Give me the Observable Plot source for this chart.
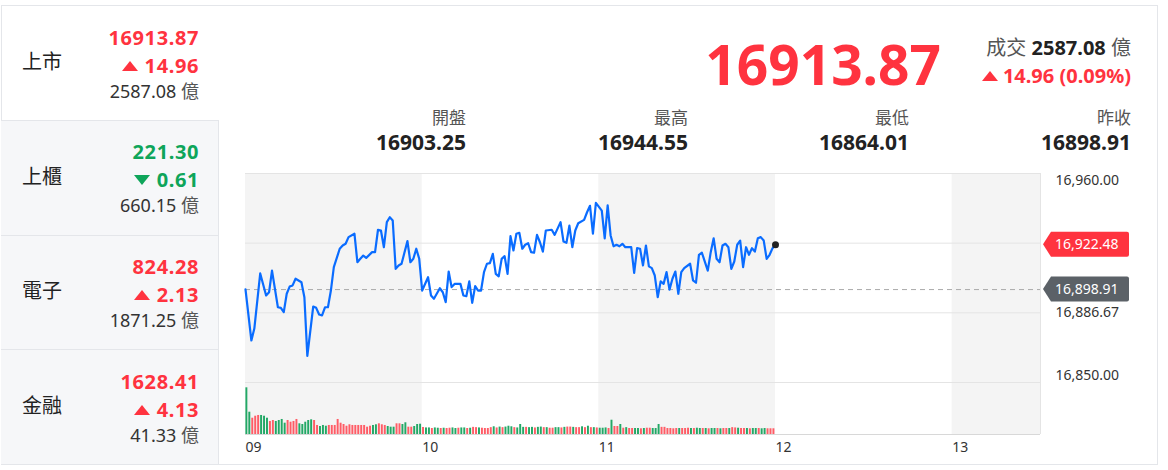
<!DOCTYPE html>
<html><head><meta charset="utf-8">
<script src="https://cdn.jsdelivr.net/npm/d3@7"></script>
<script src="https://cdn.jsdelivr.net/npm/@observablehq/plot@0.6"></script>
<style>
html,body{margin:0;padding:0;background:#fff;}
body{width:1168px;height:470px;overflow:hidden;position:relative;font-family:"Noto Sans","Noto Sans CJK TC",sans-serif;color:#222;}
.t{position:absolute;white-space:nowrap;}
.box{position:absolute;box-sizing:border-box;}
.tri-up{display:inline-block;width:0;height:0;border-left:8px solid transparent;border-right:8px solid transparent;border-bottom:10px solid currentColor;margin-right:7px;vertical-align:2px;}
.tri-dn{display:inline-block;width:0;height:0;border-left:8px solid transparent;border-right:8px solid transparent;border-top:10px solid currentColor;margin-right:7px;vertical-align:2px;}
.plot{position:absolute;left:218px;}
</style></head><body>
<script>
// ---------------- data ----------------
const RED = "#ff333f", GREEN = "#0ea55a";
const sectorNames = ["上市", "上櫃", "電子", "金融"];
const sectorValues = ["16913.87", "221.30", "824.28", "1628.41"];
const sectorChanges = ["14.96", "0.61", "2.13", "4.13"];
const sectorDirs = ["up", "down", "up", "up"];
const sectorVolumes = ["2587.08", "660.15", "1871.25", "41.33"];

const indexValue = "16913.87";
const turnover = "2587.08";
const changeText = "14.96 (0.09%)";
const statLabels = ["開盤", "最高", "最低", "昨收"];
const statValues = ["16903.25", "16944.55", "16864.01", "16898.91"];

const prevClose = 16898.91;
const lastPrice = 16922.48;
const yTicks = [16960, 16923.33, 16886.67, 16850];
const yTickLabels = ["16,960.00", "16,923.33", "16,886.67", "16,850.00"];
const hourTicks = ["09:00", "10:00", "11:00", "12:00", "13:00"];
const hourLabels = ["09", "10", "11", "12", "13"];
const shadedFrom = ["09:00", "11:00", "13:00"];
const shadedTo = ["10:00", "12:00", "13:30"];

const priceTimes = ["09:00","09:02","09:03","09:05","09:07","09:08","09:09","09:11","09:12","09:13","09:14","09:15","09:16","09:17","09:19","09:20","09:21","09:23","09:24","09:25","09:26","09:27","09:28","09:29","09:30","09:32","09:33","09:34","09:35","09:37","09:38","09:39","09:40","09:41","09:43","09:44","09:45","09:46","09:47","09:48","09:49","09:50","09:51","09:52","09:53","09:55","09:56","09:57","09:58","09:59",
"10:00","10:02","10:03","10:04","10:06","10:07","10:08","10:09","10:10","10:11","10:13","10:14","10:15","10:16","10:17","10:18","10:19","10:20","10:21","10:22","10:23","10:24","10:25","10:26","10:27","10:28","10:29","10:30","10:31","10:32","10:33","10:34","10:35","10:36","10:37","10:38","10:39","10:40","10:41","10:42","10:44","10:45","10:47","10:48","10:49","10:50","10:51","10:52","10:53","10:55","10:56","10:57","10:58","10:59",
"11:01","11:02","11:03","11:04","11:05","11:06","11:07","11:08","11:09","11:11","11:12","11:13","11:14","11:15","11:16","11:17","11:18","11:19","11:20","11:21","11:22","11:23","11:24","11:25","11:26","11:27","11:28","11:29","11:31","11:32","11:33","11:34","11:35","11:37","11:38","11:39","11:40","11:41","11:42","11:43","11:44","11:45","11:46","11:47","11:48","11:49","11:50","11:51","11:52","11:53","11:54","11:55","11:56","11:57","11:58","11:59","12:00"];
const priceValues = [16899.0,16872.1,16878.4,16907.4,16895.8,16897.5,16908.9,16889.6,16889.3,16887.0,16896.7,16900.5,16901.1,16904.6,16902.8,16894.9,16864.01,16890.0,16889.3,16885.8,16885.3,16889.6,16889.6,16898.4,16910.7,16920.4,16922.1,16923.0,16926.5,16928.3,16913.3,16915.1,16916.8,16915.6,16918.6,16918.6,16930.4,16930.0,16921.2,16934.4,16937.0,16935.3,16909.8,16911.6,16912.5,16924.4,16913.3,16915.1,16920.4,16915.1,
16898.4,16905.4,16895.8,16894.1,16899.6,16897.5,16892.3,16908.4,16900.2,16901.9,16901.9,16895.8,16895.4,16903.2,16891.9,16900.7,16898.4,16898.4,16908.1,16912.5,16912.8,16917.7,16907.2,16905.9,16915.1,16916.5,16907.2,16927.0,16919.5,16928.3,16928.8,16920.4,16922.5,16923.3,16918.6,16918.3,16927.7,16923.8,16918.9,16930.0,16930.4,16927.7,16934.4,16924.2,16923.5,16932.6,16921.2,16930.0,16933.8,16935.6,16939.6,16943.0,16928.3,16944.55,
16940.5,16925.9,16943.2,16927.4,16921.7,16922.5,16921.7,16923.0,16921.2,16921.2,16907.7,16920.7,16920.4,16911.6,16922.1,16911.1,16910.2,16906.3,16894.9,16903.2,16901.9,16908.1,16898.9,16904.6,16908.4,16896.7,16908.1,16910.2,16912.5,16903.7,16902.5,16917.2,16918.3,16908.9,16918.6,16925.9,16915.1,16913.3,16922.1,16923.0,16921.2,16909.8,16913.7,16922.5,16924.7,16910.7,16921.2,16917.2,16920.7,16918.9,16925.9,16926.5,16924.7,16915.1,16917.2,16920.7,16922.48];

// per-minute volume (億), from 09:00 to 11:59
const volumeValues = [81.7,39,28.5,32,33.3,33.3,32,28.5,22.8,24.5,22.8,24.5,26.3,19.8,24.5,21.5,22.8,26.3,18.7,17.5,21.5,24.5,25.7,24.5,15.8,14,15.8,14.5,15.8,15.8,15.8,26.3,19.8,17.5,14.5,17,15.8,15.8,15.8,15.8,15.8,12.8,14.5,15.8,17,18.7,17,15.8,14,12.8,12.8,18.7,18.7,17.5,20.5,12.8,12.8,14,17.5,18,
12.3,11.5,11.5,10.5,11.5,11,10.5,11,10.5,11,11.5,10.5,11,11.5,11.5,10.5,11,12.5,12,11.5,11,10.5,10.5,12,13.5,11.5,13,12,13,14.5,13.5,12,11.5,17.5,12.5,12.5,12,12.5,11.5,12.5,13,12,12,11,11,12,12,11.5,12.5,13,13,12.5,12,12,13.5,12,14.5,12,12,11.5,
11,11,11.5,10.5,25,14,14,17.5,11,12,10.5,10.5,10.5,10.5,10,10.5,11,11,10.5,10.5,17.5,12.5,12.5,10.5,10.5,10,10.5,10.5,10.5,10.5,11,10.5,10.5,11,10.5,10.5,10.5,10,10.5,10.5,10.5,10,10.5,10.5,10.5,12,11.5,11,10.5,10.5,10.5,10,10.5,10.5,10.5,10,10.5,10,10,10];
const volumeDirs = ["g","g","r","r","r","g","g","g","r","r","g","g","g","g","r","r","r","r","g","g","g","g","g","r","r","g","g","g","r","r","r","r","r","r","r","r","r","r","r","r","r","r","r","g","g","r","r","r","g","g","g","r","r","g","g","r","r","g","g","g",
"r","g","g","r","g","g","r","g","r","r","g","g","r","g","g","r","g","r","r","g","r","r","r","r","g","r","g","r","g","g","g","r","g","g","g","r","g","g","r","g","g","r","g","r","r","g","g","r","g","r","r","g","r","r","g","r","g","r","g","r",
"g","g","g","r","g","r","r","g","r","g","r","r","g","g","r","g","r","r","g","g","g","r","r","r","r","r","r","g","r","r","r","g","r","g","g","r","g","r","g","g","r","g","r","r","g","r","r","g","r","r","g","r","g","g","r","g","g","r","r","r"];

// ---------------- layout helpers ----------------
function put(html, x, cy, size, opts = {}) {
  const d = document.createElement("div");
  d.className = "t";
  d.innerHTML = html;
  d.style.fontSize = size + "px";
  d.style.lineHeight = size + "px";
  d.style.top = (cy - size / 2) + "px";
  if (opts.anchor === "right") d.style.right = (1168 - x) + "px"; else d.style.left = x + "px";
  if (opts.weight) d.style.fontWeight = opts.weight;
  if (opts.spacing) d.style.letterSpacing = opts.spacing + "px";
  d.style.color = opts.color || "#222";
  document.body.appendChild(d);
  return d;
}
function box(x, y, w, h, style) {
  const d = document.createElement("div");
  d.className = "box";
  Object.assign(d.style, {left: x + "px", top: y + "px", width: w + "px", height: h + "px"}, style);
  document.body.appendChild(d);
}

// outer frame and left panel
box(1, 5, 1157, 460, {border: "1px solid #e4e6ea"});
const rowTops = [5, 120, 235, 349];
const rowH = [115, 115, 114, 115];
for (let i = 1; i < 4; i++) box(1, rowTops[i], 218, rowH[i], {background: "#f6f7f9", borderTop: "1px solid #e4e6ea", borderRight: "1px solid #e4e6ea"});

sectorNames.forEach((name, i) => {
  const off = i * 114.7;
  const c = sectorDirs[i] === "up" ? RED : GREEN;
  put(name, 22, 62 + off, 20, {color: "#222"});
  put(sectorValues[i], 199, 37.5 + off, 20, {anchor: "right", weight: 700, color: c, spacing: 0.6});
  put(`<span class="${sectorDirs[i] === "up" ? "tri-up" : "tri-dn"}"></span>${sectorChanges[i]}`, 199, 65.5 + off, 20, {anchor: "right", weight: 700, color: c, spacing: 0.6});
  put(`${sectorVolumes[i]} <span style="color:#555">億</span>`, 199, 90.5 + off, 18, {anchor: "right", color: "#333"});
});

// header
put(indexValue, 941, 63, 55, {anchor: "right", weight: 700, color: RED});
put(`<span style="color:#555">成交</span> <b style="color:#222">${turnover}</b> <span style="color:#555">億</span>`, 1131, 48, 20, {anchor: "right"});
put(`<span class="tri-up" style="border-bottom-width:10px;border-left-width:8px;border-right-width:8px;margin-right:5px"></span>${changeText}`, 1131, 76, 20, {anchor: "right", weight: 700, color: RED});
const statRight = [466, 688, 909, 1131];
statLabels.forEach((l, i) => {
  put(l, statRight[i], 117, 17, {anchor: "right", color: "#555"});
  put(statValues[i], statRight[i], 142, 21, {anchor: "right", weight: 700, color: "#222"});
});

// ---------------- charts ----------------
const parse = d3.utcParse("%H:%M");
const price = priceTimes.map((t, i) => ({t: parse(t), v: priceValues[i]}));
const t0 = parse("09:00");
const vol = volumeValues.map((v, i) => ({t1: d3.utcMinute.offset(t0, i), t2: d3.utcMinute.offset(t0, i + 1), v, d: volumeDirs[i]}));
const bands = shadedFrom.map((a, i) => ({a: parse(a), b: parse(shadedTo[i])}));
const xDomain = [parse("09:00"), parse("13:30")];
const W = 940, ML = 27, MR = 118;

function tag(value, fill, text) {
  return (index, scales, values, dims) => {
    const y = scales.y(value);
    const x0 = dims.width - dims.marginRight + 3;
    const h = 12.5, r = 2, x1 = x0 + 86;
    const g = d3.create("svg:g");
    g.append("path")
      .attr("d", `M${x0},${y} L${x0 + 8},${y - h} L${x1 - r},${y - h} Q${x1},${y - h} ${x1},${y - h + r} L${x1},${y + h - r} Q${x1},${y + h} ${x1 - r},${y + h} L${x0 + 8},${y + h} Z`)
      .attr("fill", fill);
    g.append("text").attr("x", x0 + 12).attr("y", y).attr("dy", "0.35em")
      .attr("text-anchor", "start")
      .attr("fill", "#fff").attr("font-size", 14).attr("font-family", "Noto Sans, sans-serif").text(text);
    return g.node();
  };
}

const yLab = yTicks.map((v, i) => ({v, s: yTickLabels[i]}));
const labOpts = {x: () => xDomain[1], y: "v", text: "s", dx: 15, textAnchor: "start", fontSize: 14, fill: "#333"};

const pricePlot = Plot.plot({
  width: W, height: 217, marginLeft: ML, marginRight: MR, marginTop: 8, marginBottom: 0,
  style: {background: "transparent", overflow: "visible", fontFamily: "Noto Sans, sans-serif"},
  x: {type: "utc", domain: xDomain, axis: null},
  y: {domain: [16850, 16960], axis: null},
  marks: [
    Plot.rect(bands, {x1: "a", x2: "b", fill: "#f4f4f4"}),
    Plot.ruleY(yTicks, {stroke: "#e4e4e4"}),
    Plot.ruleX([xDomain[1]], {stroke: "#e4e4e4"}),
    Plot.ruleY([prevClose], {stroke: "#aaaaaa", strokeDasharray: "5,4"}),
    Plot.line(price, {x: "t", y: "v", stroke: "#0a6cff", strokeWidth: 2.2, curve: "linear"}),
    Plot.dot([price[price.length - 1]], {x: "t", y: "v", r: 3.5, fill: "#222", stroke: "none"}),
    Plot.text([yLab[0]], {...labOpts, dy: 7}),
    Plot.text([yLab[2]], {...labOpts, dy: 0}),
    Plot.text([yLab[3]], {...labOpts, dy: -7}),
    tag(lastPrice, "#ff333f", "16,922.48"),
    tag(prevClose, "#5b6167", "16,898.91")
  ]
});
pricePlot.classList.add("plot");
pricePlot.style.top = "165px";
document.body.appendChild(pricePlot);

const volPlot = Plot.plot({
  width: W, height: 83, marginLeft: ML, marginRight: MR, marginTop: 0, marginBottom: 31,
  style: {background: "transparent", overflow: "visible", fontFamily: "Noto Sans, sans-serif"},
  x: {type: "utc", domain: xDomain, axis: null},
  y: {domain: [0, 91], axis: null},
  marks: [
    Plot.rect(bands, {x1: "a", x2: "b", fill: "#f4f4f4"}),
    Plot.ruleY([91], {stroke: "#e4e4e4"}),
    Plot.ruleX([xDomain[1]], {stroke: "#e4e4e4"}),
    Plot.rectY(vol, {x1: "t1", x2: "t2", y: "v", fill: d => d.d === "r" ? "#ff5c66" : "#23a866", insetLeft: 0.4, insetRight: 0.6}),
    Plot.ruleY([0], {stroke: "#d8d8d8"}),
    Plot.text(hourTicks.map((t, i) => ({t: parse(t), s: hourLabels[i]})), {
      x: "t", y: () => 0, text: "s", textAnchor: "start", dx: 0, dy: 13, fontSize: 14, fill: "#333"
    })
  ]
});
volPlot.classList.add("plot");
volPlot.style.top = "382px";
document.body.appendChild(volPlot);
</script>
</body></html>
